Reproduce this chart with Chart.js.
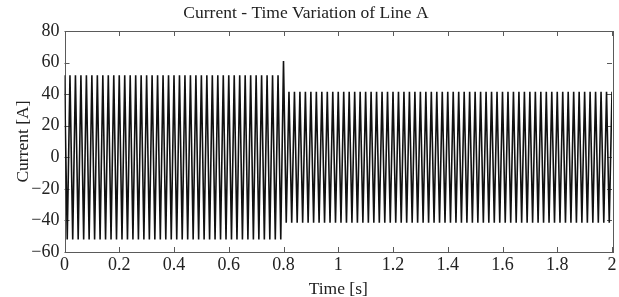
<!DOCTYPE html>
<html>
<head>
<meta charset="utf-8">
<script src="https://cdn.jsdelivr.net/npm/chart.js@4/dist/chart.umd.min.js"></script>
<style>
    html, body { margin: 0; padding: 0; background: #ffffff; }
    #wrap { width: 619px; height: 297px; position: relative; }
</style>
</head>
<body>
<div id="wrap"><canvas id="currentChart"></canvas></div>
<script>
// Sample times [s] (one sample at every peak / trough of the waveform)
const times = [
    0, 0.01, 0.02, 0.03, 0.04, 0.05, 0.06, 0.07, 0.08, 0.09,
    0.1, 0.11, 0.12, 0.13, 0.14, 0.15, 0.16, 0.17, 0.18, 0.19,
    0.2, 0.21, 0.22, 0.23, 0.24, 0.25, 0.26, 0.27, 0.28, 0.29,
    0.3, 0.31, 0.32, 0.33, 0.34, 0.35, 0.36, 0.37, 0.38, 0.39,
    0.4, 0.41, 0.42, 0.43, 0.44, 0.45, 0.46, 0.47, 0.48, 0.49,
    0.5, 0.51, 0.52, 0.53, 0.54, 0.55, 0.56, 0.57, 0.58, 0.59,
    0.6, 0.61, 0.62, 0.63, 0.64, 0.65, 0.66, 0.67, 0.68, 0.69,
    0.7, 0.71, 0.72, 0.73, 0.74, 0.75, 0.76, 0.77, 0.78, 0.79,
    0.8, 0.81, 0.82, 0.83, 0.84, 0.85, 0.86, 0.87, 0.88, 0.89,
    0.9, 0.91, 0.92, 0.93, 0.94, 0.95, 0.96, 0.97, 0.98, 0.99,
    1, 1.01, 1.02, 1.03, 1.04, 1.05, 1.06, 1.07, 1.08, 1.09,
    1.1, 1.11, 1.12, 1.13, 1.14, 1.15, 1.16, 1.17, 1.18, 1.19,
    1.2, 1.21, 1.22, 1.23, 1.24, 1.25, 1.26, 1.27, 1.28, 1.29,
    1.3, 1.31, 1.32, 1.33, 1.34, 1.35, 1.36, 1.37, 1.38, 1.39,
    1.4, 1.41, 1.42, 1.43, 1.44, 1.45, 1.46, 1.47, 1.48, 1.49,
    1.5, 1.51, 1.52, 1.53, 1.54, 1.55, 1.56, 1.57, 1.58, 1.59,
    1.6, 1.61, 1.62, 1.63, 1.64, 1.65, 1.66, 1.67, 1.68, 1.69,
    1.7, 1.71, 1.72, 1.73, 1.74, 1.75, 1.76, 1.77, 1.78, 1.79,
    1.8, 1.81, 1.82, 1.83, 1.84, 1.85, 1.86, 1.87, 1.88, 1.89,
    1.9, 1.91, 1.92, 1.93, 1.94, 1.95, 1.96, 1.97, 1.98, 1.99,
    2
];

// Current [A] at each sample: +/-52 A before 0.8 s, spike at 0.8 s, +/-41.5 A after
const current = [
    52, -52, 52, -52, 52, -52, 52, -52, 52, -52, 52, -52, 52, -52, 52, -52, 52, -52, 52, -52,
    52, -52, 52, -52, 52, -52, 52, -52, 52, -52, 52, -52, 52, -52, 52, -52, 52, -52, 52, -52,
    52, -52, 52, -52, 52, -52, 52, -52, 52, -52, 52, -52, 52, -52, 52, -52, 52, -52, 52, -52,
    52, -52, 52, -52, 52, -52, 52, -52, 52, -52, 52, -52, 52, -52, 52, -52, 52, -52, 52, -52,
    61,
    -41.5, 41.5, -41.5, 41.5, -41.5, 41.5, -41.5, 41.5, -41.5, 41.5, -41.5, 41.5, -41.5, 41.5, -41.5, 41.5, -41.5, 41.5, -41.5, 41.5,
    -41.5, 41.5, -41.5, 41.5, -41.5, 41.5, -41.5, 41.5, -41.5, 41.5, -41.5, 41.5, -41.5, 41.5, -41.5, 41.5, -41.5, 41.5, -41.5, 41.5,
    -41.5, 41.5, -41.5, 41.5, -41.5, 41.5, -41.5, 41.5, -41.5, 41.5, -41.5, 41.5, -41.5, 41.5, -41.5, 41.5, -41.5, 41.5, -41.5, 41.5,
    -41.5, 41.5, -41.5, 41.5, -41.5, 41.5, -41.5, 41.5, -41.5, 41.5, -41.5, 41.5, -41.5, 41.5, -41.5, 41.5, -41.5, 41.5, -41.5, 41.5,
    -41.5, 41.5, -41.5, 41.5, -41.5, 41.5, -41.5, 41.5, -41.5, 41.5, -41.5, 41.5, -41.5, 41.5, -41.5, 41.5, -41.5, 41.5, -41.5, 41.5,
    -41.5, 41.5, -41.5, 41.5, -41.5, 41.5, -41.5, 41.5, -41.5, 41.5, -41.5, 41.5, -41.5, 41.5, -41.5, 41.5, -41.5, 41.5, -41.5, 41.5
];

// Axis ranges / tick steps
const xRange = [0, 2];
const xStep = 0.2;
const yRange = [-60, 80];
const yStep = 20;

const FONT = "'Liberation Serif', 'DejaVu Serif', serif";

// Box around the plot with small inward ticks on all four sides (MATLAB style)
const boxPlugin = {
    id: 'boxTicks',
    beforeDatasetsDraw(chart) {
        const { ctx, chartArea: a, scales } = chart;
        const len = 5;
        ctx.save();
        ctx.strokeStyle = '#5a5a5a';
        ctx.lineWidth = 1;
        ctx.beginPath();
        scales.x.ticks.forEach(t => {
            const px = Math.round(scales.x.getPixelForValue(t.value)) + 0.5;
            ctx.moveTo(px, a.bottom); ctx.lineTo(px, a.bottom - len);
            ctx.moveTo(px, a.top); ctx.lineTo(px, a.top + len);
        });
        scales.y.ticks.forEach(t => {
            const py = Math.round(scales.y.getPixelForValue(t.value)) + 0.5;
            ctx.moveTo(a.left, py); ctx.lineTo(a.left + len, py);
            ctx.moveTo(a.right, py); ctx.lineTo(a.right - len, py);
        });
        ctx.stroke();
        ctx.strokeRect(Math.round(a.left) + 0.5, Math.round(a.top) + 0.5,
            Math.round(a.right - a.left), Math.round(a.bottom - a.top));
        ctx.restore();
    }
};

const points = times.map((t, i) => ({ x: t, y: current[i] }));

new Chart(document.getElementById('currentChart'), {
    type: 'line',
    data: {
        datasets: [{
            data: points,
            borderColor: '#111111',
            borderWidth: 1.6,
            pointRadius: 0,
            tension: 0,
            fill: false
        }]
    },
    options: {
        responsive: true,
        maintainAspectRatio: false,
        animation: false,
        layout: { padding: { left: 0, right: 7, top: 0, bottom: 0 } },
        plugins: {
            legend: { display: false },
            tooltip: { enabled: false },
            title: {
                display: true,
                text: 'Current - Time Variation of Line A',
                color: '#222222',
                font: { family: FONT, size: 17.5, weight: 'normal', lineHeight: 1.2 },
                padding: { top: 3, bottom: 7 }
            }
        },
        scales: {
            x: {
                type: 'linear',
                min: xRange[0],
                max: xRange[1],
                grid: { display: false, drawTicks: false },
                border: { display: false },
                ticks: {
                    stepSize: xStep,
                    padding: 2,
                    maxRotation: 0,
                    color: '#222222',
                    font: { family: FONT, size: 18 },
                    callback: v => String(+v.toFixed(1))
                },
                title: {
                    display: true,
                    text: 'Time [s]',
                    color: '#222222',
                    font: { family: FONT, size: 17.5, lineHeight: 1 },
                    padding: { top: 0, bottom: -1 }
                },
                afterFit: scale => { scale.height = 45; }
            },
            y: {
                min: yRange[0],
                max: yRange[1],
                grid: { display: false, drawTicks: false },
                border: { display: false },
                ticks: {
                    stepSize: yStep,
                    padding: 5,
                    color: '#222222',
                    font: { family: FONT, size: 18 },
                    callback: v => v < 0 ? '\u2212' + Math.abs(v) : String(v)
                },
                title: {
                    display: true,
                    text: 'Current [A]',
                    color: '#222222',
                    font: { family: FONT, size: 17.5, lineHeight: 1.2 },
                    padding: { top: 12.5, bottom: 0 }
                },
                afterFit: scale => { scale.width = 64.5; }
            }
        }
    },
    plugins: [boxPlugin]
});
</script>
</body>
</html>
